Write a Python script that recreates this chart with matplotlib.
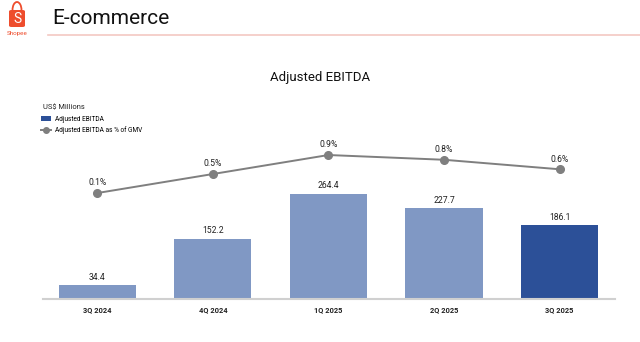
import matplotlib
matplotlib.use("Agg")
import matplotlib.pyplot as plt
from matplotlib.patches import FancyBboxPatch, Arc
from matplotlib.lines import Line2D
from matplotlib.patches import Patch

plt.rcParams['font.family'] = ['Roboto', 'DejaVu Sans']

quarters = ["3Q 2024", "4Q 2024", "1Q 2025", "2Q 2025", "3Q 2025"]
ebitda = [34.4, 152.2, 264.4, 227.7, 186.1]
pct_gmv = [0.1, 0.5, 0.9, 0.8, 0.6]

light_blue = "#8098c4"
dark_blue = "#2c5098"
grey = "#7f7f7f"
orange = "#ee4d2d"

W, H = 640, 342
fig = plt.figure(figsize=(W / 100, H / 100), dpi=100)


def fx(px):
    return px / W


def fy(py):
    return 1 - py / H


# header
fig.text(fx(52), fy(19), "E-commerce", fontsize=15, va="center", ha="left", color="#111111")
fig.add_artist(Line2D([fx(48), fx(640)], [fy(35), fy(35)], color="#f4c8c2", lw=1.2))

# shopee logo
bag = FancyBboxPatch((fx(9), fy(27)), fx(16), fy(10) - fy(27),
                     boxstyle="round,pad=0,rounding_size=0.004",
                     transform=fig.transFigure, facecolor=orange, edgecolor="none")
fig.add_artist(bag)
fig.add_artist(Arc((fx(17), fy(10)), fx(9), fy(2) - fy(18), theta1=0, theta2=180,
                   transform=fig.transFigure, color=orange, lw=1.3))
fig.text(fx(17), fy(19), "S", fontsize=10, color="white", ha="center", va="center")
fig.text(fx(17), fy(34), "Shopee", fontsize=4.5, color=orange, ha="center", va="center")

# chart title
fig.text(fx(320), fy(77), "Adjusted EBITDA", fontsize=9.5, ha="center", va="center", color="#111111")

# bars
ax = fig.add_axes([fx(43), fy(299), fx(615) - fx(43), fy(140) - fy(299)])
x = list(range(len(quarters)))
colors = [light_blue] * (len(quarters) - 1) + [dark_blue]
bars = ax.bar(x, ebitda, width=0.667, color=colors, zorder=2)
for xi, v in zip(x, ebitda):
    ax.annotate(f"{v:.1f}", (xi, v), xytext=(0, 2.5), textcoords="offset points",
                ha="center", va="bottom", fontsize=6.2, color="#222222")
ax.set_xlim(-0.47, 4.48)
ax.set_ylim(0, 400)
ax.set_xticks(x)
ax.set_xticklabels(quarters, fontsize=5.4, fontweight="bold", color="#222222")
ax.tick_params(axis="x", length=0, pad=5)
ax.set_yticks([])
for s in ["top", "right", "left"]:
    ax.spines[s].set_visible(False)
ax.spines["bottom"].set_color("#d0d0d0")
ax.spines["bottom"].set_linewidth(1.5)
ax.patch.set_visible(False)

# line on secondary axis
ax2 = ax.twinx()
ax2.plot(x, pct_gmv, color=grey, lw=1.4, marker="o", markersize=5.5, zorder=3)
for xi, v in zip(x, pct_gmv):
    ax2.annotate(f"{v:.1f}%", (xi, v), xytext=(0, 4), textcoords="offset points",
                 ha="center", va="bottom", fontsize=6.2, color="#222222")
ax2.set_ylim(-2.13, 1.216)
ax2.set_yticks([])
for s in ax2.spines.values():
    s.set_visible(False)

# legend
fig.text(fx(43), fy(108), "US$ Millions", fontsize=5.4, ha="left", va="center", color="#222222")
handles = [Patch(facecolor=dark_blue, edgecolor="none"),
           Line2D([], [], color=grey, lw=1.4, marker="o", markersize=4)]
fig.legend(handles, ["Adjusted EBITDA", "Adjusted EBITDA as % of GMV"],
           loc="upper left", bbox_to_anchor=(fx(41), fy(116)), frameon=False,
           fontsize=4.7, handlelength=1.5, handleheight=0.9, labelspacing=0.5,
           handletextpad=0.6, borderpad=0, borderaxespad=0)

fig.savefig("out.png", dpi=100)
